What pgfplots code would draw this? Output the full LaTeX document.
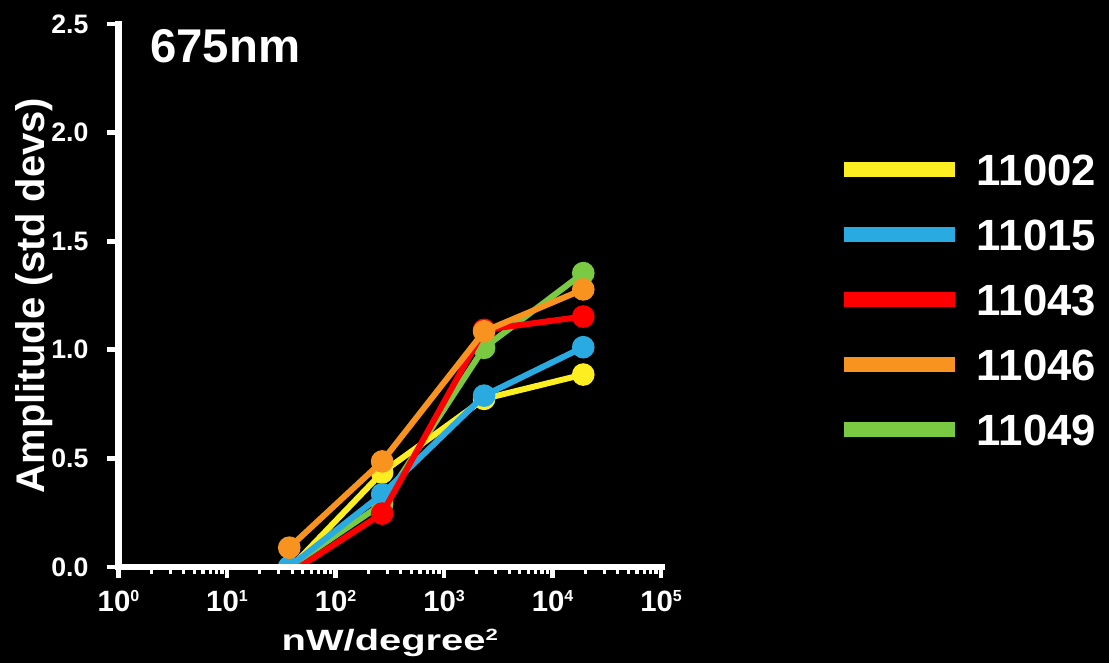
\documentclass[border=0pt]{standalone}
\usepackage{fontspec}
\setmainfont{Liberation Sans}
\usepackage{graphicx}
\usepackage{pgfplots}
\pgfplotsset{compat=1.18}
\definecolor{cyel}{HTML}{FCEE21}
\definecolor{cblu}{HTML}{29ABE2}
\definecolor{cred}{HTML}{FF0000}
\definecolor{cora}{HTML}{F7931E}
\definecolor{cgre}{HTML}{7AC943}
\newcommand{\sx}[1]{\raisebox{7.5pt}{\fontsize{12}{12}\selectfont #1}}
\begin{document}
\begin{tikzpicture}
\fill[black] (-88.875pt,-72pt) rectangle (742.875pt,425.25pt);
\begin{axis}[
  at={(0pt,0pt)}, anchor=south west,
  scale only axis, width=406.9pt, height=407.25pt,
  xmode=log, xmin=1, xmax=100000, ymin=0, ymax=2.5,
  axis x line=bottom, axis y line=left,
  every inner x axis line/.append style={-},
  every inner y axis line/.append style={-},
  every outer x axis line/.append style={-},
  every outer y axis line/.append style={-},
  axis line style={-, white, line width=5.2pt, line cap=rect},
  axis on top,
  clip marker paths=true,
  tick align=outside,
  major tick length=8.5pt, minor tick length=5.5pt,
  major tick style={white, line width=3.6pt},
  minor tick style={white, line width=2.4pt},
  xtick={1,10,100,1000,10000,100000},
  xticklabels={10\sx{0},10\sx{1},10\sx{2},10\sx{3},10\sx{4},10\sx{5}},
  minor xtick={2,3,4,5,6,7,8,9,20,30,40,50,60,70,80,90,200,300,400,500,600,700,800,900,2000,3000,4000,5000,6000,7000,8000,9000,20000,30000,40000,50000,60000,70000,80000,90000},
  ytick={0,0.5,1,1.5,2,2.5},
  yticklabels={0.0,0.5,1.0,1.5,2.0,2.5},
  xticklabel style={font=\fontsize{22}{22}\selectfont\bfseries, text=white, inner sep=0pt, anchor=base, yshift=-24.5pt},
  yticklabel style={font=\fontsize{20}{20}\selectfont\bfseries, text=white, inner sep=0pt, anchor=east, xshift=-13.9pt},
  xlabel={\scalebox{1.36}[1]{nW/degree\raisebox{7pt}{\fontsize{12.2}{12.2}\selectfont 2}}},
  xlabel style={font=\fontsize{22}{22}\selectfont\bfseries, text=white, inner sep=0pt, at={(axis description cs:0.5,0)}, anchor=base, yshift=-62.25pt},
  ylabel={Amplitude (std devs)},
  ylabel style={font=\fontsize{30}{30}\selectfont\bfseries, text=white, inner sep=0pt, at={(axis description cs:-0.1558,0.5)}, anchor=center, rotate=0},
  every axis plot/.append style={line width=4.5pt, mark=*, mark size=6.2pt, mark options={solid}},
  legend image code/.code={\draw[#1, line width=11.25pt, line cap=butt] (0pt,0pt) -- (83.8pt,0pt);},
  legend style={at={(axis description cs:1.3226,0.7624)}, anchor=north west, draw=none, fill=none, text=white,
    font=\fontsize{32.8}{32.8}\selectfont\bfseries, inner sep=0pt, outer sep=0pt,
    column sep=10.5pt, row sep=24.75pt,
    nodes={inner sep=0pt, text height=24pt, text depth=0pt}},
  legend cell align=left,
]
\addplot[cgre, forget plot] coordinates {(37.5,0) (269,0.290) (2340,1.009) (19200,1.353)};
\addplot[cyel, forget plot] coordinates {(37.5,-0.01) (269,0.435) (2340,0.774) (19200,0.886)};
\addplot[cblu, forget plot] coordinates {(37.5,0) (269,0.335) (2340,0.789) (19200,1.012)};
\addplot[cred, forget plot] coordinates {(37.5,-0.03) (269,0.246) (2340,1.092) (19200,1.153)};
\addplot[cora, forget plot] coordinates {(37.5,0.089) (269,0.486) (2340,1.085) (19200,1.278)};
\addlegendimage{cyel}\addlegendentry{11002}
\addlegendimage{cblu}\addlegendentry{11015}
\addlegendimage{cred}\addlegendentry{11043}
\addlegendimage{cora}\addlegendentry{11046}
\addlegendimage{cgre}\addlegendentry{11049}
\node[anchor=base west, inner sep=0pt, text=white, font=\fontsize{35.5}{35.5}\selectfont\bfseries] at (axis description cs:0.058,0.930) {675nm};
\end{axis}
\pgfresetboundingbox
\path (-88.875pt,-72pt) rectangle (742.875pt,425.25pt);
\end{tikzpicture}
\end{document}
